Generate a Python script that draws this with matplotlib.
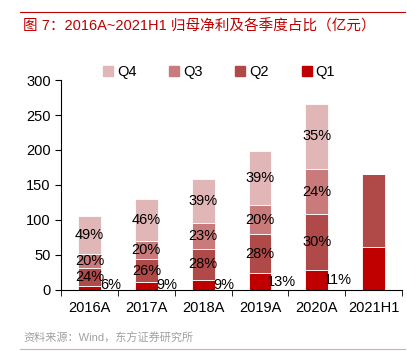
import matplotlib
matplotlib.use("Agg")
from matplotlib import pyplot as plt
from matplotlib.lines import Line2D
import numpy as np

plt.rcParams['font.family'] = ['Liberation Sans', 'Noto Sans CJK SC', 'DejaVu Sans']

years = ['2016A', '2017A', '2018A', '2019A', '2020A', '2021H1']
q1 = [6, 11, 14, 24, 28, 62]
q2 = [25, 33, 45, 56, 80, 104]
q3 = [21, 26, 37, 41, 65, 0]
q4 = [53, 60, 63, 78, 93, 0]
pct_q1 = ['6%', '9%', '9%', '13%', '11%', '']
pct_q2 = ['24%', '26%', '28%', '28%', '30%', '']
pct_q3 = ['20%', '20%', '23%', '20%', '24%', '']
pct_q4 = ['49%', '46%', '39%', '39%', '35%', '']

colors = {'Q1': '#C00000', 'Q2': '#B04A48', 'Q3': '#C97B7B', 'Q4': '#E1B6B6'}

fig = plt.figure(figsize=(4.07, 3.51), dpi=100)
ax = fig.add_axes([0.15, 0.174, 0.838, 0.598])

x = np.arange(len(years))
b1 = np.zeros(len(years))
b2 = b1 + np.array(q1)
b3 = b2 + np.array(q2)
b4 = b3 + np.array(q3)
w = 0.4
ax.bar(x, q1, w, color=colors['Q1'], edgecolor='white', linewidth=0.6)
ax.bar(x, q2, w, bottom=b2, color=colors['Q2'], edgecolor='white', linewidth=0.6)
ax.bar(x, q3, w, bottom=b3, color=colors['Q3'], edgecolor='white', linewidth=0.6)
ax.bar(x, q4, w, bottom=b4, color=colors['Q4'], edgecolor='white', linewidth=0.6)

fs = 10.5
for i in range(len(years)):
    if pct_q1[i]:
        ax.text(i + 0.37, max(q1[i] / 2, 7), pct_q1[i], ha='center', va='center', fontsize=fs)
    if pct_q2[i]:
        ax.text(i, b2[i] + q2[i] / 2, pct_q2[i], ha='center', va='center', fontsize=fs)
    if pct_q3[i]:
        ax.text(i, b3[i] + q3[i] / 2, pct_q3[i], ha='center', va='center', fontsize=fs)
    if pct_q4[i]:
        ax.text(i, b4[i] + q4[i] / 2, pct_q4[i], ha='center', va='center', fontsize=fs)

ax.set_xlim(-0.5, 5.5)
ax.set_ylim(0, 300)
ax.set_yticks(range(0, 301, 50))
ax.set_xticks(x)
ax.set_xticklabels(years, fontsize=fs)
ax.tick_params(axis='x', length=0, pad=8)
ax.set_xticks(np.arange(-0.5, 6, 1), minor=True)
ax.tick_params(axis='x', which='minor', length=4, direction='out')
ax.tick_params(axis='y', length=4, labelsize=fs)
ax.spines['top'].set_visible(False)
ax.spines['right'].set_visible(False)

handles = [Line2D([], [], marker='s', linestyle='None', markersize=7,
                  color=colors[k]) for k in ['Q4', 'Q3', 'Q2', 'Q1']]
fig.legend(handles, ['Q4', 'Q3', 'Q2', 'Q1'], loc='center', bbox_to_anchor=(0.535, 0.795),
           ncol=4, frameon=False, fontsize=fs, handletextpad=0.1, columnspacing=2.1,
           handlelength=1.0)

# title and footer
fig.add_artist(Line2D([0.05, 0.995], [0.965, 0.965], color='#C00000', linewidth=0.8))
fig.text(0.057, 0.925, '图 7：2016A~2021H1 归母净利及各季度占比（亿元）', color='#C00000',
         fontsize=10.5, va='center', family=['Liberation Sans', 'Noto Sans CJK SC'])
fig.text(0.057, 0.037, '资料来源：Wind，东方证券研究所', color='#A0A0A0', fontsize=8,
         va='center', family=['Liberation Sans', 'Noto Sans CJK SC'])
fig.add_artist(Line2D([0.05, 0.995], [0.006, 0.006], color='#F0A0A0', linewidth=0.8))

fig.savefig('out.png', dpi=100)
